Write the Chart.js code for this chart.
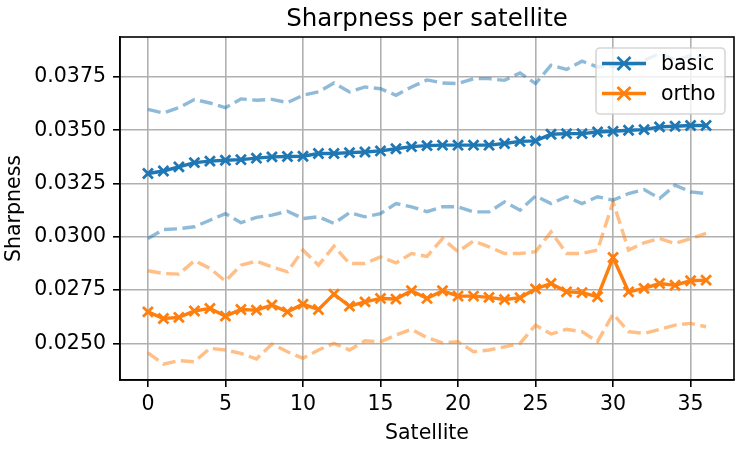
<!DOCTYPE html>
<html>
<head>
<meta charset="utf-8">
<script src="https://cdn.jsdelivr.net/npm/chart.js@4.4.0/dist/chart.umd.min.js"></script>
<style>
  html, body { margin: 0; padding: 0; background: #fff; }
  #wrap { width: 747px; height: 449px; }
</style>
</head>
<body>
<div id="wrap"><canvas id="chart" width="747" height="449"></canvas></div>
<script>
const satellites = [0,1,2,3,4,5,6,7,8,9,10,11,12,13,14,15,16,17,18,19,20,21,22,23,24,25,26,27,28,29,30,31,32,33,34,35,36];

const basicMean = [0.03297,0.03309,0.03328,0.03348,0.03355,0.03359,0.03362,0.03369,0.03375,0.03377,0.03378,0.03391,0.03391,0.03395,0.03398,0.03403,0.03413,0.03423,0.03428,
  0.0343,0.0343,0.0343,0.0343,0.03438,0.03448,0.0345,0.03481,0.03484,0.03484,0.03492,0.03495,0.0350,0.03503,0.03516,0.03519,0.03522,0.03522];
const basicUpper = [0.03598,0.03581,0.03606,0.03644,0.03628,0.03606,0.03647,0.03641,0.03645,0.0363,0.03664,0.0368,0.03722,0.0368,0.03703,0.03695,0.03664,0.03703,0.03736,
  0.03722,0.03719,0.03742,0.03742,0.03734,0.03769,0.03719,0.03805,0.03785,0.03824,0.03797,0.0380,0.03797,0.03828,0.0386,0.0383,0.0385,0.0384];
const basicLower = [0.02992,0.03034,0.03038,0.03047,0.03078,0.03109,0.03066,0.03091,0.03102,0.0312,0.03086,0.03094,0.03063,0.03113,0.03094,0.03109,0.03156,0.03141,0.03118,
  0.03141,0.03141,0.03117,0.03117,0.03164,0.03125,0.03192,0.03156,0.03188,0.03156,0.03188,0.03172,0.03203,0.03222,0.0318,0.03242,0.03211,0.03203];

const orthoMean = [0.02648,0.02617,0.02622,0.02652,0.02664,0.02628,0.02659,0.02656,0.0268,0.02648,0.02684,0.02659,0.02731,0.02675,0.02695,0.02711,0.02708,0.02747,0.02711,
  0.02747,0.02722,0.02722,0.02716,0.02706,0.02714,0.02756,0.02781,0.02742,0.02738,0.02719,0.02903,0.02742,0.02758,0.02781,0.02773,0.02794,0.02797];
const orthoUpper = [0.02841,0.02828,0.02825,0.02888,0.02852,0.02792,0.02867,0.02886,0.02859,0.02836,0.02938,0.02867,0.02956,0.02875,0.02875,0.02906,0.02878,0.02922,0.02908,
  0.02992,0.0293,0.02981,0.02953,0.02922,0.02922,0.0293,0.03023,0.02922,0.02922,0.02938,0.03164,0.02938,0.02972,0.02992,0.02969,0.02992,0.03016];
const orthoLower = [0.02456,0.02403,0.02419,0.02414,0.02477,0.02469,0.02453,0.02427,0.02497,0.02461,0.0243,0.02469,0.025,0.02469,0.02512,0.02508,0.02539,0.02566,0.02527,
  0.02503,0.02508,0.02461,0.02469,0.02484,0.025,0.02586,0.02544,0.02566,0.02555,0.02508,0.02638,0.02555,0.02547,0.02566,0.02586,0.02594,0.02578];

const xTicks = [0, 5, 10, 15, 20, 25, 30, 35];
const yTicks = [0.0250, 0.0275, 0.0300, 0.0325, 0.0350, 0.0375];

const seriesNames = ['basic', 'ortho'];
const titleText = 'Sharpness per satellite';

const BLUE = '#1f77b4';
const ORANGE = '#ff7f0e';
const FONT = "'DejaVu Sans', sans-serif";
const LABEL_SIZE = 20.5;

function pts(values) {
  return satellites.map((s, i) => ({ x: s, y: values[i] }));
}

function meanSet(label, values, color) {
  return {
    label: label,
    data: pts(values),
    borderColor: color,
    backgroundColor: color,
    borderWidth: 3.4,
    pointStyle: 'crossRot',
    pointRadius: 7,
    pointBorderWidth: 2.8,
    pointBorderColor: color,
    tension: 0,
    order: 0
  };
}

function bandSet(values, color) {
  return {
    label: '',
    data: pts(values),
    borderColor: color,
    borderWidth: 3.4,
    borderDash: [13, 5.5],
    pointRadius: 0,
    tension: 0,
    order: 1
  };
}

// cadre, titre et legende dessines a la main
const extras = {
  id: 'extras',
  afterDraw(chart) {
    const ctx = chart.ctx;
    const a = chart.chartArea;
    ctx.save();
    ctx.strokeStyle = '#000';
    ctx.lineWidth = 1.6;
    ctx.strokeRect(a.left, a.top, a.right - a.left, a.bottom - a.top);

    ctx.fillStyle = '#000';
    ctx.font = '24.5px ' + FONT;
    ctx.textAlign = 'center';
    ctx.textBaseline = 'alphabetic';
    ctx.fillText(titleText, (a.left + a.right) / 2, 26);

    // legende
    const bx = 596, by = 48, bw = 129, bh = 66, r = 4;
    ctx.beginPath();
    ctx.moveTo(bx + r, by);
    ctx.arcTo(bx + bw, by, bx + bw, by + bh, r);
    ctx.arcTo(bx + bw, by + bh, bx, by + bh, r);
    ctx.arcTo(bx, by + bh, bx, by, r);
    ctx.arcTo(bx, by, bx + bw, by, r);
    ctx.closePath();
    ctx.fillStyle = 'rgba(255,255,255,0.8)';
    ctx.fill();
    ctx.strokeStyle = 'rgba(204,204,204,0.8)';
    ctx.lineWidth = 1.6;
    ctx.stroke();

    const colors = [BLUE, ORANGE];
    seriesNames.forEach((name, i) => {
      const y = 63.5 + i * 30;
      ctx.strokeStyle = colors[i];
      ctx.lineWidth = 3.4;
      ctx.beginPath();
      ctx.moveTo(602, y);
      ctx.lineTo(646, y);
      ctx.stroke();
      const cx = 624, s = 6.5;
      ctx.lineWidth = 2.8;
      ctx.beginPath();
      ctx.moveTo(cx - s, y - s); ctx.lineTo(cx + s, y + s);
      ctx.moveTo(cx - s, y + s); ctx.lineTo(cx + s, y - s);
      ctx.stroke();
      ctx.fillStyle = '#000';
      ctx.font = LABEL_SIZE + 'px ' + FONT;
      ctx.textAlign = 'left';
      ctx.textBaseline = 'middle';
      ctx.fillText(name, 661, y + 1);
    });
    ctx.restore();
  }
};

const chart = new Chart(document.getElementById('chart').getContext('2d'), {
  type: 'line',
  data: {
    datasets: [
      meanSet(seriesNames[0], basicMean, BLUE),
      bandSet(basicUpper, 'rgba(31,119,180,0.5)'),
      bandSet(basicLower, 'rgba(31,119,180,0.5)'),
      meanSet(seriesNames[1], orthoMean, ORANGE),
      bandSet(orthoUpper, 'rgba(255,127,14,0.5)'),
      bandSet(orthoLower, 'rgba(255,127,14,0.5)')
    ]
  },
  options: {
    responsive: false,
    animation: false,
    devicePixelRatio: 1,
    layout: { padding: { left: 0, right: 13, top: 37, bottom: 0 } },
    plugins: {
      legend: { display: false },
      title: { display: false },
      tooltip: { enabled: false }
    },
    scales: {
      x: {
        type: 'linear',
        min: -1.8,
        max: 37.8,
        afterBuildTicks: s => { s.ticks = xTicks.map(v => ({ value: v })); },
        afterFit: s => { s.height = 69; },
        grid: { color: '#b0b0b0', lineWidth: 1.6, tickLength: 7, tickColor: '#000', tickWidth: 1.6 },
        border: { color: '#000', width: 1.6 },
        ticks: { color: '#000', font: { family: FONT, size: LABEL_SIZE }, padding: 5, maxRotation: 0 },
        title: { display: true, text: 'Satellite', color: '#000', font: { family: FONT, size: LABEL_SIZE }, padding: { top: 0, bottom: 3 } }
      },
      y: {
        min: 0.023283,
        max: 0.039375,
        afterBuildTicks: s => { s.ticks = yTicks.map(v => ({ value: v })); },
        afterFit: s => { s.width = 120; },
        grid: { color: '#b0b0b0', lineWidth: 1.6, tickLength: 7, tickColor: '#000', tickWidth: 1.6 },
        border: { color: '#000', width: 1.6 },
        ticks: { color: '#000', font: { family: FONT, size: LABEL_SIZE }, padding: 7, callback: v => v.toFixed(4) },
        title: { display: true, text: 'Sharpness', color: '#000', font: { family: FONT, size: LABEL_SIZE }, padding: { top: 2, bottom: 0 } }
      }
    }
  },
  plugins: [extras]
});
</script>
</body>
</html>
